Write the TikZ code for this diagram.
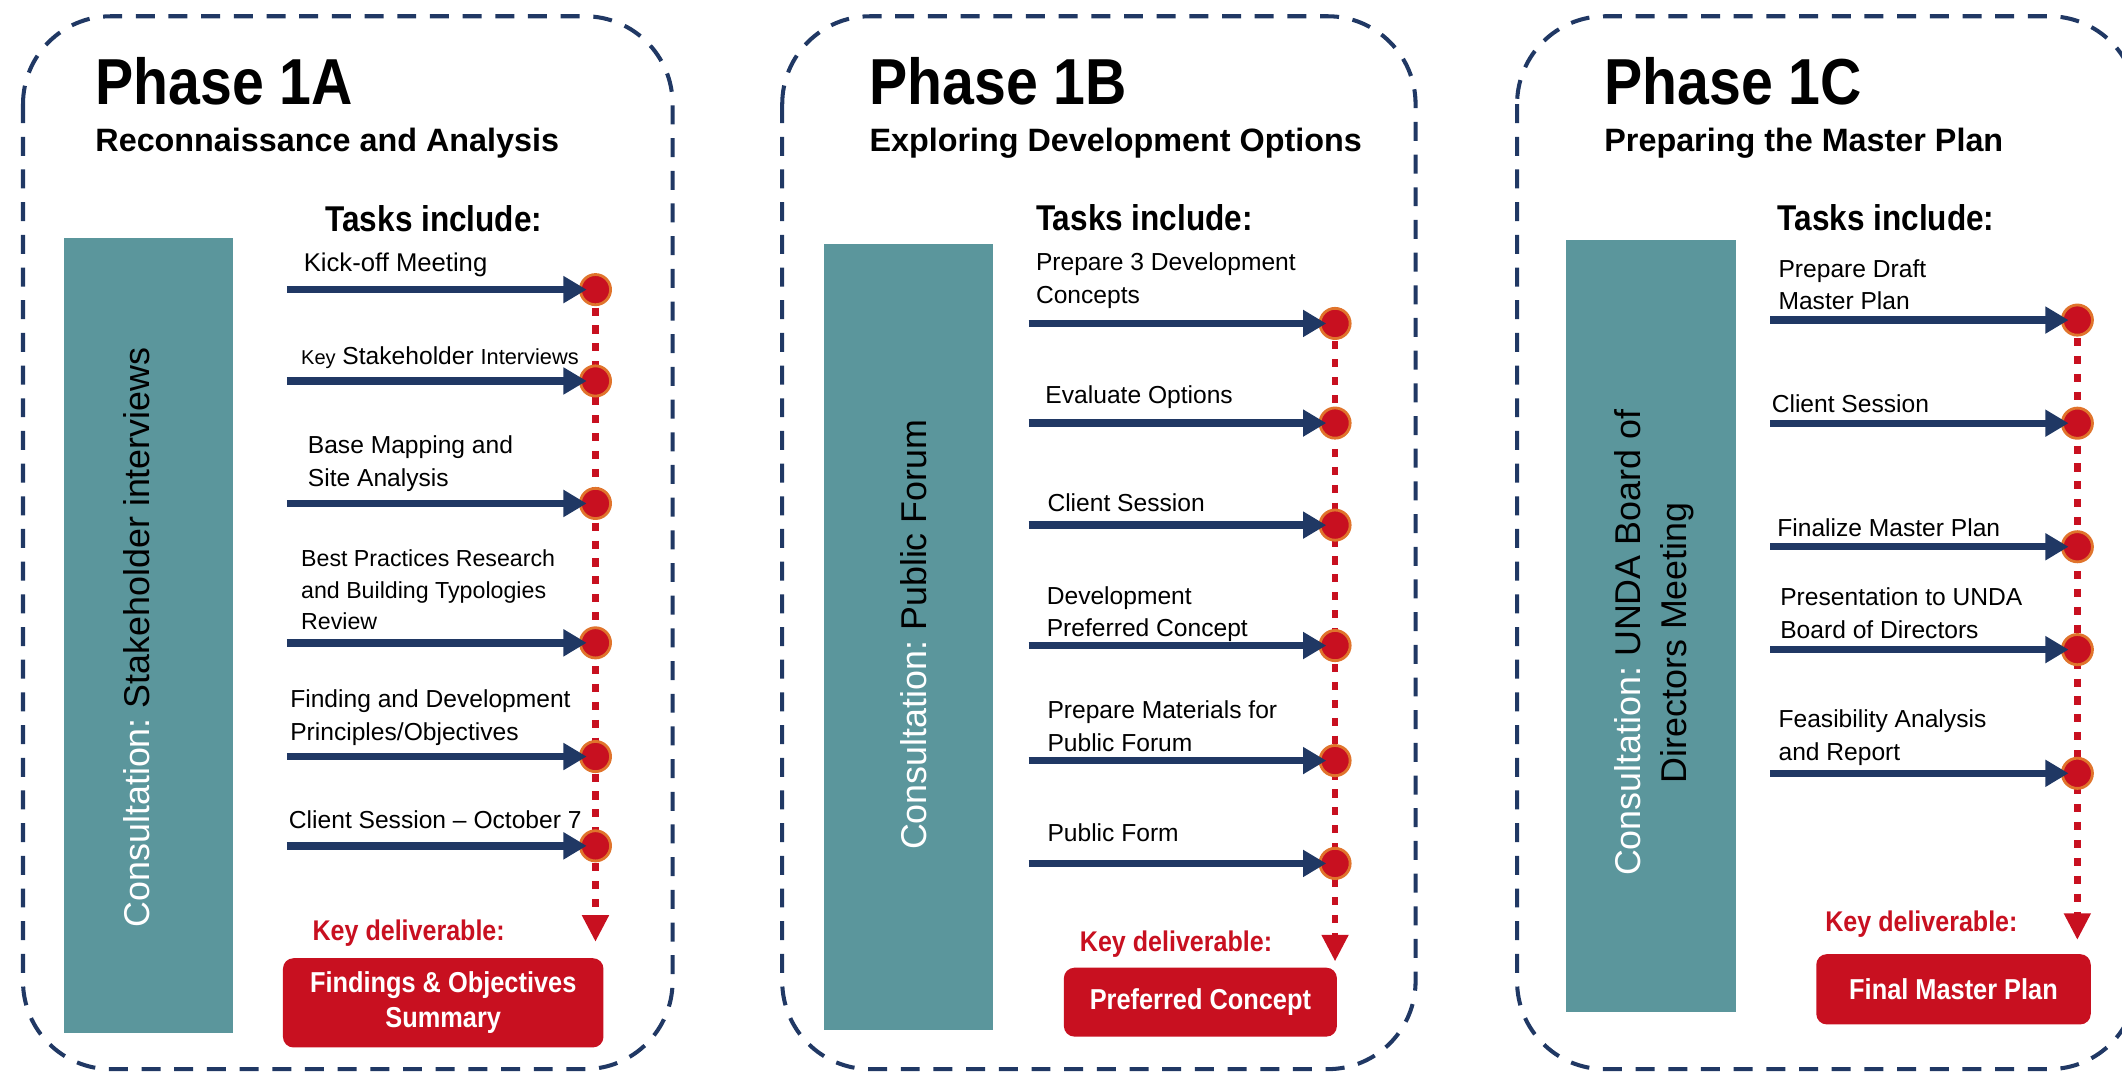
\documentclass[tikz,border=0pt]{standalone}
\usepackage{fontspec}
\setmainfont{Liberation Sans}
\newfontfamily\headfont{Liberation Sans}[FakeStretch=0.88]
\usetikzlibrary{arrows.meta}

\definecolor{navy}{HTML}{203864}
\definecolor{tealbar}{HTML}{5B969C}
\definecolor{keyred}{HTML}{C81020}
\definecolor{ring}{HTML}{E0742C}

\begin{document}
\begin{tikzpicture}[x=0.013533cm, y=-0.013533cm,
	phasebox/.style={draw=navy, line width=1.15pt, dash pattern=on 5.4pt off 3.9pt, rounded corners=25pt},
	consult/.style={rotate=90, inner sep=0pt, align=center, text=black, font=\fontsize{10.2}{13.1}\selectfont},
	phase/.style={anchor=base west, inner sep=0pt, font=\headfont\bfseries\fontsize{18.5}{20}\selectfont},
	subtitle/.style={anchor=base west, inner sep=0pt, font=\bfseries\fontsize{9.2}{11}\selectfont},
	tasks/.style={anchor=base west, inner sep=0pt, font=\headfont\bfseries\fontsize{10.2}{12}\selectfont},
	task/.style={anchor=base west, inner sep=0pt, align=left, font=\fontsize{7}{9.3}\selectfont},
	milestone/.style={circle, fill=keyred, draw=ring, line width=0.8pt, minimum size=8.6pt, inner sep=0pt},
	flow/.style={draw=navy, line width=2.1pt, -{Triangle[length=6.6pt,width=7.3pt]}, shorten >=2.5pt},
	timeline/.style={draw=keyred, line width=1.9pt, dash pattern=on 2.3pt off 2.8pt, -{Triangle[length=7.6pt,width=7.2pt]}},
	keylabel/.style={anchor=base west, inner sep=0pt, text=keyred, font=\headfont\bfseries\fontsize{8.1}{10}\selectfont},
	deliverable/.style={fill=keyred, rounded corners=3pt, inner sep=0pt, text=white, align=center, font=\headfont\bfseries\fontsize{8.2}{10}\selectfont}]
	\useasboundingbox (0,0) rectangle (1568,794);

	% Phase 1A
	\draw[phasebox] (17,12) rectangle (497,790);
	\fill[tealbar] (47,176) rectangle (172,763);
	\node[consult] (ca) at (101,471) {\textcolor{white}{Consultation:}\ Stakeholder interviews};
	\node[phase] (pa) at (70,77) {Phase 1A};
	\node[subtitle] (sa) at (70,112) {Reconnaissance and Analysis};
	\node[tasks] (ta) at (240,171) {Tasks include:};
	% multi-line labels sit on their last baseline
	\node[task, font=\fontsize{7.3}{9.3}\selectfont] (la1) at (224,200.5) {Kick-off Meeting};
	\node[task] (la2) at (222,269.5) {{\fontsize{5.7}{7}\selectfont Key} Stakeholder {\fontsize{6.2}{7}\selectfont Interviews}};
	\node[task] (la3) at (227,359.6) {Base Mapping and\\Site Analysis};
	\node[task, font=\fontsize{6.6}{9}\selectfont] (la4) at (222,465.5) {Best Practices Research\\and Building Typologies\\Review};
	\node[task] (la5) at (214,546.8) {Finding and Development\\Principles/Objectives};
	\node[task] (la6) at (213,612) {Client Session – October 7};
	\coordinate (a1) at (440,214);
	\coordinate (a2) at (440,281.5);
	\coordinate (a3) at (440,372);
	\coordinate (a4) at (440,475);
	\coordinate (a5) at (440,559);
	\coordinate (a6) at (440,625);
	\coordinate (ea) at (440,696);
	\draw[timeline] (a1) -- (ea);
	\node[milestone] (ma1) at (a1) {};
	\node[milestone] (ma2) at (a2) {};
	\node[milestone] (ma3) at (a3) {};
	\node[milestone] (ma4) at (a4) {};
	\node[milestone] (ma5) at (a5) {};
	\node[milestone] (ma6) at (a6) {};
	\coordinate (sa1) at (212,214);
	\coordinate (sa2) at (212,281.5);
	\coordinate (sa3) at (212,372);
	\coordinate (sa4) at (212,475);
	\coordinate (sa5) at (212,559);
	\coordinate (sa6) at (212,625);
	\draw[flow] (sa1) -- (ma1.center);
	\draw[flow] (sa2) -- (ma2.center);
	\draw[flow] (sa3) -- (ma3.center);
	\draw[flow] (sa4) -- (ma4.center);
	\draw[flow] (sa5) -- (ma5.center);
	\draw[flow] (sa6) -- (ma6.center);
	\node[keylabel] (ka) at (230.5,695) {Key deliverable:};
	\node[deliverable, minimum width=91.2pt, minimum height=25.4pt] (da) at (327.5,741) {Findings \& Objectives\\Summary};

	% Phase 1B
	\draw[phasebox] (578,12) rectangle (1046,790);
	\fill[tealbar] (608.5,180) rectangle (734,761);
	\node[consult] (cb) at (675,469) {\textcolor{white}{Consultation:}\ Public Forum};
	\node[phase] (pb) at (642,77) {Phase 1B};
	\node[subtitle] (sb) at (642,112) {Exploring Development Options};
	\node[tasks] (tb) at (765,170) {Tasks include:};
	\node[task] (lb1) at (765,224) {Prepare 3 Development\\Concepts};
	\node[task] (lb2) at (772,298) {Evaluate Options};
	\node[task] (lb3) at (773.5,378) {Client Session};
	\node[task] (lb4) at (773,470.5) {Development\\Preferred Concept};
	\node[task] (lb5) at (773.5,555.4) {Prepare Materials for\\Public Forum};
	\node[task] (lb6) at (773.5,622) {Public Form};
	\coordinate (b1) at (986.5,239);
	\coordinate (b2) at (986.5,312.6);
	\coordinate (b3) at (986.5,388);
	\coordinate (b4) at (986.5,477);
	\coordinate (b5) at (986.5,562);
	\coordinate (b6) at (986.5,638);
	\coordinate (eb) at (986.5,710.5);
	\draw[timeline] (b1) -- (eb);
	\node[milestone] (mb1) at (b1) {};
	\node[milestone] (mb2) at (b2) {};
	\node[milestone] (mb3) at (b3) {};
	\node[milestone] (mb4) at (b4) {};
	\node[milestone] (mb5) at (b5) {};
	\node[milestone] (mb6) at (b6) {};
	\coordinate (sb1) at (760,239);
	\coordinate (sb2) at (760,312.6);
	\coordinate (sb3) at (760,388);
	\coordinate (sb4) at (760,477);
	\coordinate (sb5) at (760,562);
	\coordinate (sb6) at (760,638);
	\draw[flow] (sb1) -- (mb1.center);
	\draw[flow] (sb2) -- (mb2.center);
	\draw[flow] (sb3) -- (mb3.center);
	\draw[flow] (sb4) -- (mb4.center);
	\draw[flow] (sb5) -- (mb5.center);
	\draw[flow] (sb6) -- (mb6.center);
	\node[keylabel] (kb) at (797.5,703) {Key deliverable:};
	\node[deliverable, minimum width=77.7pt, minimum height=19.6pt] (db) at (887,740.5) {Preferred Concept};

	% Phase 1C
	\draw[phasebox] (1121,12) rectangle (1579,790);
	\fill[tealbar] (1157,177) rectangle (1283,748);
	\node[consult] (cc) at (1222.5,475) {\textcolor{white}{Consultation:}\ UNDA Board of\\Directors Meeting};
	\node[phase] (pc) at (1185,77) {Phase 1C};
	\node[subtitle] (sc) at (1185,112) {Preparing the Master Plan};
	\node[tasks] (tc) at (1313,170) {Tasks include:};
	\node[task] (lc1) at (1313.7,229) {Prepare Draft\\Master Plan};
	\node[task] (lc2) at (1308.7,305) {Client Session};
	\node[task] (lc3) at (1312.8,396.6) {Finalize Master Plan};
	\node[task] (lc4) at (1315,471.6) {Presentation to UNDA\\Board of Directors};
	\node[task] (lc5) at (1313.7,561.6) {Feasibility Analysis\\and Report};
	\coordinate (c1) at (1535,236.5);
	\coordinate (c2) at (1535,312.7);
	\coordinate (c3) at (1535,404);
	\coordinate (c4) at (1535,480);
	\coordinate (c5) at (1535,571.4);
	\coordinate (ec) at (1535,694.6);
	\draw[timeline] (c1) -- (ec);
	\node[milestone] (mc1) at (c1) {};
	\node[milestone] (mc2) at (c2) {};
	\node[milestone] (mc3) at (c3) {};
	\node[milestone] (mc4) at (c4) {};
	\node[milestone] (mc5) at (c5) {};
	\coordinate (sc1) at (1308,236.5);
	\coordinate (sc2) at (1308,312.7);
	\coordinate (sc3) at (1308,404);
	\coordinate (sc4) at (1308,480);
	\coordinate (sc5) at (1308,571.4);
	\draw[flow] (sc1) -- (mc1.center);
	\draw[flow] (sc2) -- (mc2.center);
	\draw[flow] (sc3) -- (mc3.center);
	\draw[flow] (sc4) -- (mc4.center);
	\draw[flow] (sc5) -- (mc5.center);
	\node[keylabel] (kc) at (1348.3,688.5) {Key deliverable:};
	\node[deliverable, minimum width=78.1pt, minimum height=20pt] (dc) at (1443.5,731) {Final Master Plan};
\end{tikzpicture}
\end{document}
